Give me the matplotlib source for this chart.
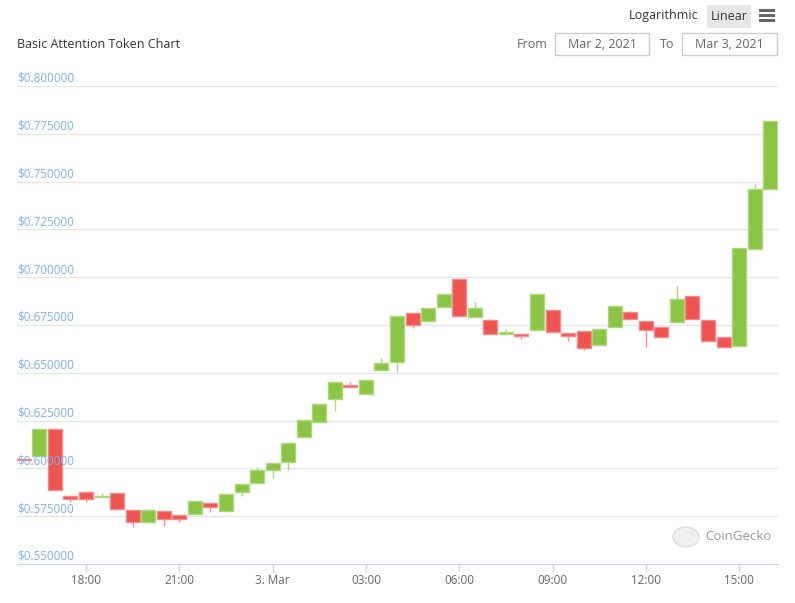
import numpy as np
import pandas as pd
import matplotlib
matplotlib.use('Agg')
import matplotlib.pyplot as plt
import matplotlib.dates as mdates
from matplotlib.patches import Rectangle, Circle

plt.rcParams['font.family'] = ['Open Sans', 'DejaVu Sans']

# BAT price, 30 min candles from 2 Mar 2021 16:00
start = '2021-03-02 16:00'
opens = [0.6046, 0.6065, 0.6205, 0.5854, 0.5877, 0.5852, 0.5871, 0.5782, 0.5721,
         0.5777, 0.5755, 0.5760, 0.5819, 0.5777, 0.5875, 0.5922, 0.5990, 0.6032,
         0.6166, 0.6244, 0.6361, 0.6435, 0.6391, 0.6516, 0.6555, 0.6813, 0.6772,
         0.6843, 0.6991, 0.6790, 0.6776, 0.6701, 0.6703, 0.6722, 0.6828, 0.6707,
         0.6717, 0.6644, 0.6738, 0.6816, 0.6769, 0.6738, 0.6764, 0.6900, 0.6775,
         0.6686, 0.6639, 0.7146, 0.7460]
closes = [0.6043, 0.6205, 0.5887, 0.5842, 0.5842, 0.5855, 0.5786, 0.5720, 0.5782,
          0.5734, 0.5734, 0.5830, 0.5797, 0.5866, 0.5918, 0.5992, 0.6028, 0.6133,
          0.6253, 0.6337, 0.6450, 0.6424, 0.6462, 0.6551, 0.6797, 0.6748, 0.6837,
          0.6912, 0.6799, 0.6837, 0.6701, 0.6713, 0.6694, 0.6912, 0.6712, 0.6691,
          0.6628, 0.6727, 0.6848, 0.6780, 0.6722, 0.6686, 0.6884, 0.6780, 0.6665,
          0.6633, 0.7151, 0.7460, 0.7815]
highs = [0.6046, 0.6205, 0.6205, 0.5854, 0.5877, 0.5871, 0.5871, 0.5782, 0.5788,
         0.5777, 0.5755, 0.5830, 0.5819, 0.5866, 0.5918, 0.6009, 0.6028, 0.6133,
         0.6253, 0.6337, 0.6450, 0.6452, 0.6462, 0.6577, 0.6797, 0.6813, 0.6837,
         0.6912, 0.6991, 0.6870, 0.6781, 0.6729, 0.6703, 0.6912, 0.6828, 0.6707,
         0.6717, 0.6727, 0.6848, 0.6825, 0.6769, 0.6738, 0.6956, 0.6900, 0.6775,
         0.6686, 0.7151, 0.7487, 0.7815]
lows = [0.6043, 0.6065, 0.5887, 0.5823, 0.5826, 0.5852, 0.5786, 0.5695, 0.5721,
        0.5699, 0.5721, 0.5760, 0.5772, 0.5777, 0.5856, 0.5922, 0.5951, 0.5992,
        0.6166, 0.6244, 0.6300, 0.6424, 0.6391, 0.6516, 0.6506, 0.6734, 0.6766,
        0.6843, 0.6799, 0.6790, 0.6701, 0.6701, 0.6678, 0.6722, 0.6712, 0.6668,
        0.6621, 0.6644, 0.6738, 0.6780, 0.6637, 0.6686, 0.6764, 0.6780, 0.6665,
        0.6633, 0.6639, 0.7146, 0.7460]

y_ticks = [0.55, 0.575, 0.6, 0.625, 0.65, 0.675, 0.7, 0.725, 0.75, 0.775, 0.8]
x_ticks = ['2021-03-02 18:00', '2021-03-02 21:00', '2021-03-03 00:00', '2021-03-03 03:00',
           '2021-03-03 06:00', '2021-03-03 09:00', '2021-03-03 12:00', '2021-03-03 15:00']
x_labels = ['18:00', '21:00', '3. Mar', '03:00', '06:00', '09:00', '12:00', '15:00']

W, H = 795, 603
fig = plt.figure(figsize=(W / 100, H / 100), dpi=100)


def fx(x):
    return x / W


def fy(y):
    return 1 - y / H


# plot area in pixels: x 17..778, y 86..564
ax = fig.add_axes([fx(17), fy(564), fx(778 - 17), (564 - 86) / H])

times = mdates.date2num(pd.date_range(start, periods=len(opens), freq='30min'))
step = 1 / 48
bw = step * 0.9

green, green_e = '#8cc545', '#a9da7b'
red, red_e = '#ef5451', '#f48b8b'
for t, o, c, h, l in zip(times, opens, closes, highs, lows):
    up = c >= o
    fc, ec = (green, green_e) if up else (red, red_e)
    lo, hi = min(o, c), max(o, c)
    ax.vlines(t, l, lo, color=ec, lw=1, zorder=2)
    ax.vlines(t, hi, h, color=ec, lw=1, zorder=2)
    ax.add_patch(Rectangle((t - bw / 2, lo), bw, max(hi - lo, 0.0004),
                           facecolor=fc, edgecolor=ec, lw=1, zorder=3))

t18 = mdates.date2num(pd.Timestamp('2021-03-02 18:00'))
ax.set_xlim(t18 - 4.44 * step, t18 + 44.5 * step)
ax.set_ylim(0.55, 0.8)

ax.set_yticks(y_ticks)
ax.set_yticklabels([])
ax.tick_params(axis='y', length=0)
ax.grid(axis='y', color='#e6e6e6', lw=1, zorder=0)
# labels sit on top of the candles, as in the original
for v in y_ticks:
    ax.text(0, v + 0.0006, '$%.6f' % v, transform=ax.get_yaxis_transform(),
            color='#7fb0ee', fontsize=8.4, va='bottom', ha='left', zorder=6)

ax.set_xticks(mdates.date2num(pd.to_datetime(x_ticks)))
ax.set_xticklabels(x_labels, color='#666666', fontsize=8.4)
ax.tick_params(axis='x', length=6, color='#ccd6eb', width=1, pad=1.5)

for s in ['top', 'right', 'left']:
    ax.spines[s].set_visible(False)
ax.spines['bottom'].set_color('#ccd6eb')

# header
fig.text(fx(17), fy(44), 'Basic Attention Token Chart', color='#333333',
         fontsize=9, va='center', ha='left')
fig.text(fx(698), fy(16), 'Logarithmic', color='#333333', fontsize=9,
         va='center', ha='right')
fig.patches.append(Rectangle((fx(707), fy(28)), fx(44), 23 / H, transform=fig.transFigure,
                             facecolor='#e6e6e6', edgecolor='none'))
fig.text(fx(729), fy(16), 'Linear', color='#333333', fontsize=9, va='center', ha='center')
for yy in [10, 15, 20]:
    fig.patches.append(Rectangle((fx(759), fy(yy + 1.5)), fx(16), 3 / H,
                                 transform=fig.transFigure, facecolor='#666666',
                                 edgecolor='none'))
fig.text(fx(548), fy(44), 'From', color='#666666', fontsize=9, va='center', ha='right')
fig.text(fx(674), fy(44), 'To', color='#666666', fontsize=9, va='center', ha='right')
for x0, x1, label in [(555, 649, 'Mar 2, 2021'), (682, 777, 'Mar 3, 2021')]:
    fig.patches.append(Rectangle((fx(x0), fy(55)), fx(x1 - x0), 22 / H,
                                 transform=fig.transFigure, facecolor='white',
                                 edgecolor='#cccccc', lw=1))
    fig.text(fx((x0 + x1) / 2), fy(44), label, color='#666666', fontsize=9,
             va='center', ha='center')

# watermark
fig.patches.append(Circle((fx(686), fy(537)), 13 / W, transform=fig.transFigure,
                          facecolor='#f0f0f0', edgecolor='#dddddd', lw=1))
fig.text(fx(705), fy(536), 'CoinGecko', color='#999999', fontsize=9.5,
         va='center', ha='left')

fig.savefig('out.png', dpi=100)
